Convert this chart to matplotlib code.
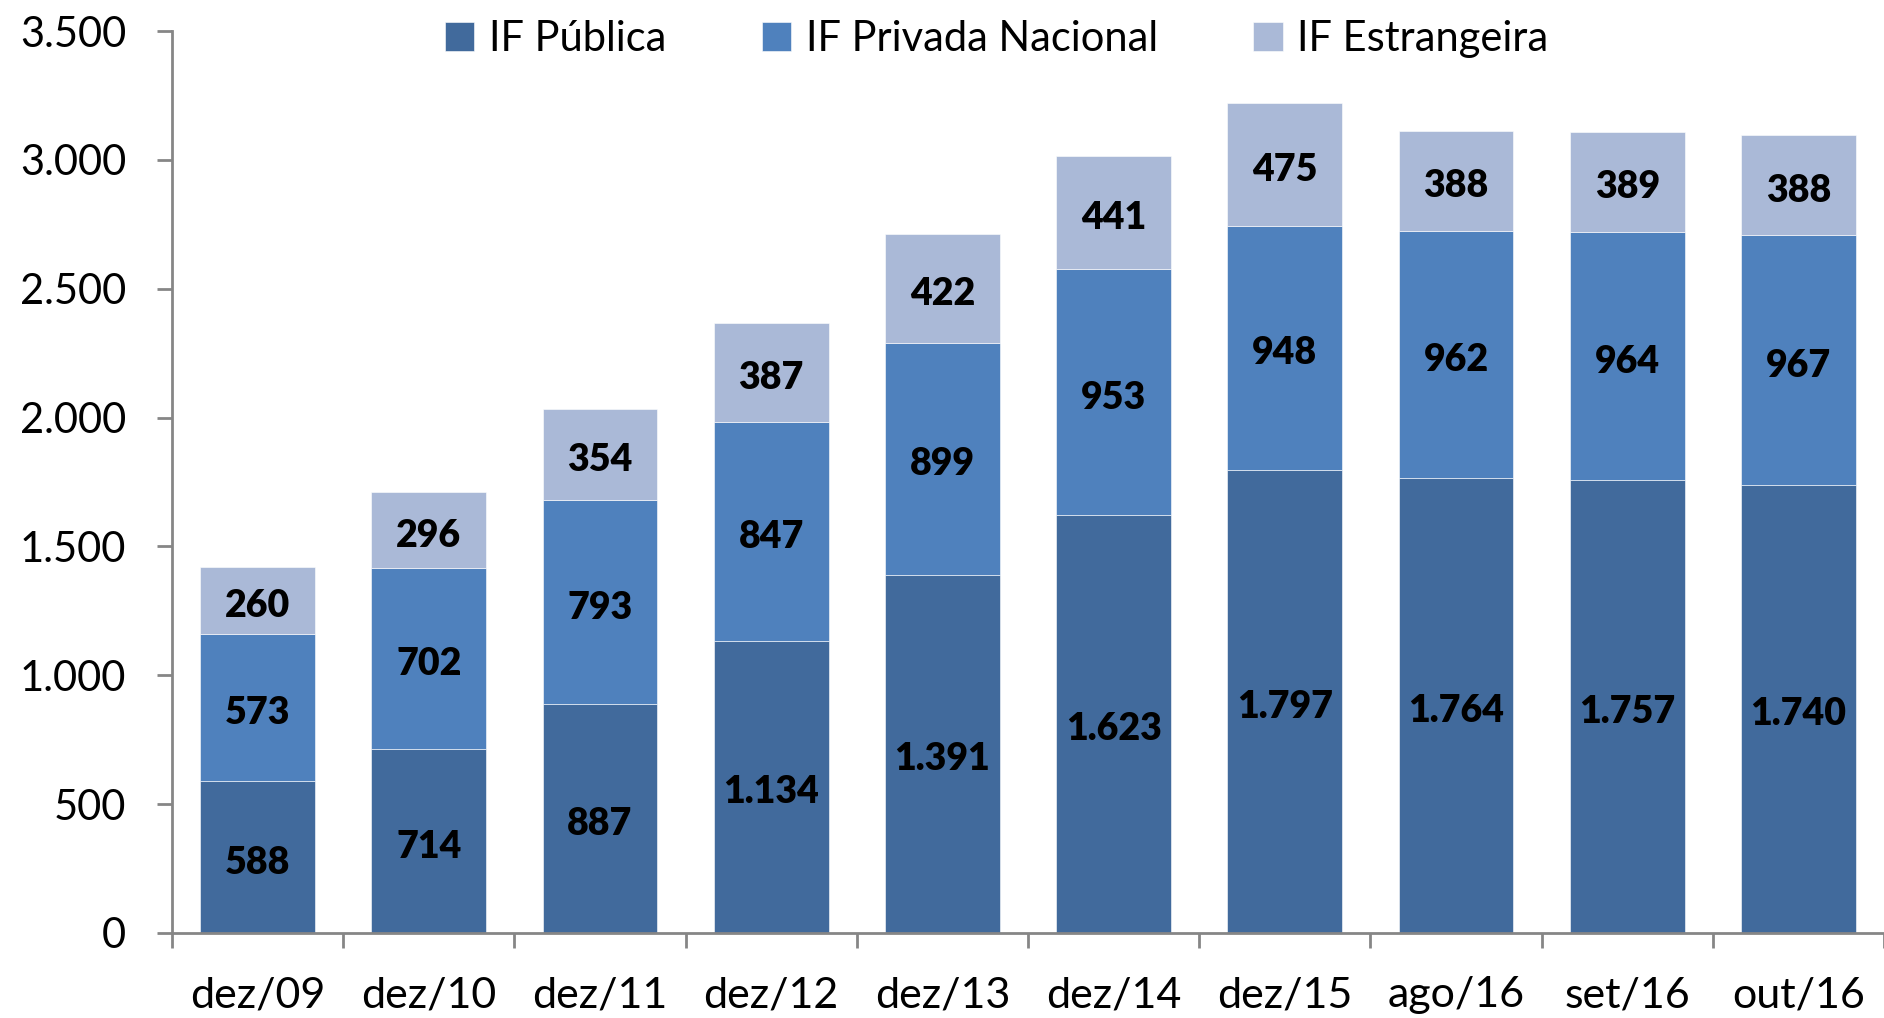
import matplotlib

matplotlib.use("Agg")
import matplotlib.pyplot as plt
import numpy as np

CATS = ["dez/09", "dez/10", "dez/11", "dez/12", "dez/13", "dez/14",
        "dez/15", "ago/16", "set/16", "out/16"]
PUBLICA = [588, 714, 887, 1134, 1391, 1623, 1797, 1764, 1757, 1740]
PRIVADA = [573, 702, 793, 847, 899, 953, 948, 962, 964, 967]
ESTRANG = [260, 296, 354, 387, 422, 441, 475, 388, 389, 388]
SERIES = [("IF Pública", PUBLICA, "#416A9C"),
          ("IF Privada Nacional", PRIVADA, "#4F81BD"),
          ("IF Estrangeira", ESTRANG, "#AAB9D7")]

plt.rcParams["font.family"] = ["Lato", "DejaVu Sans"]


def br(v):
    return f"{v:,.0f}".replace(",", ".")


fig = plt.figure(figsize=(18.84, 10.18), dpi=100)
ax = fig.add_axes([0.0913, 0.0835, 0.9087, 0.886])

x = np.arange(len(CATS))
bottom = np.zeros(len(CATS))
handles = []
for name, vals, color in SERIES:
    vals = np.array(vals)
    h = ax.bar(x, vals, 0.67, bottom=bottom, color=color, label=name,
               edgecolor="#ffffff", linewidth=0.4)
    handles.append(h)
    for xi, b, v in zip(x, bottom, vals):
        ax.annotate(br(v), (xi, b + v / 2), xytext=(0, -4),
                    textcoords="offset points", ha="center", va="center",
                    fontsize=27, fontweight="heavy", color="black")
    bottom += vals

ax.set_xlim(-0.5, len(CATS) - 0.5)
ax.set_ylim(0, 3500)
ax.set_yticks(np.arange(0, 3501, 500))
ax.set_yticklabels([br(v) for v in np.arange(0, 3501, 500)])
ax.set_xticks(x)
ax.set_xticklabels(CATS)
ax.set_xticks(np.arange(-0.5, len(CATS), 1.0), minor=True)

for s in ["top", "right"]:
    ax.spines[s].set_visible(False)
for s in ["left", "bottom"]:
    ax.spines[s].set_color("#868686")
    ax.spines[s].set_linewidth(2)

ax.tick_params(axis="y", length=11, width=2, color="#868686", pad=22,
               labelsize=30)
ax.tick_params(axis="x", which="major", length=0, pad=31, labelsize=31)
ax.tick_params(axis="x", which="minor", length=11, width=2, color="#868686")

fig.legend(handles=handles, loc="center", bbox_to_anchor=(0.529, 0.962),
           ncol=3, frameon=False, fontsize=30, handlelength=0.7,
           handleheight=0.7, handletextpad=0.35, columnspacing=2.3)

fig.savefig("out.png", dpi=100)
